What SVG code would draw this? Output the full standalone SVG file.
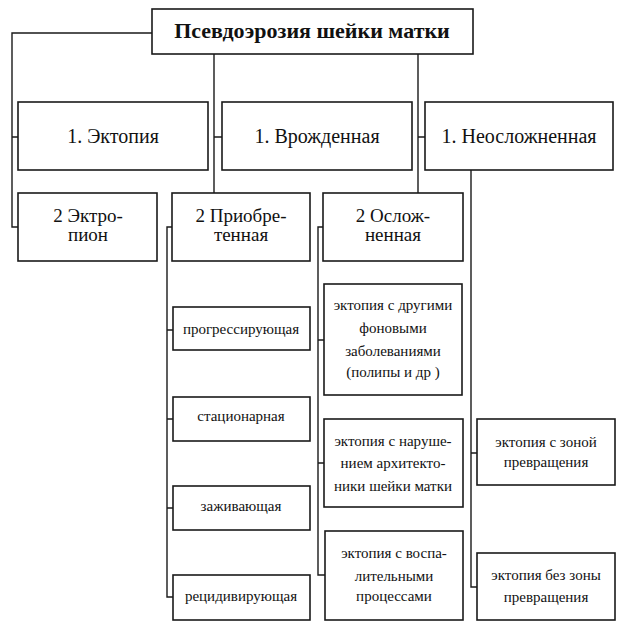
<svg xmlns="http://www.w3.org/2000/svg" width="626" height="632" viewBox="0 0 626 632" font-family="Liberation Serif">
<style>
.b{fill:#fff;stroke:#1a1a1a;stroke-width:1.6}
.c{fill:none;stroke:#1a1a1a;stroke-width:1.4}
</style>
<rect width="626" height="632" fill="#fff"/>
<g id="connectors">
<path class="c" d="M152,33 H12 V227 H18 M12,137 H18"/>
<path class="c" d="M214,54 V193 M214,137 H222"/>
<path class="c" d="M418,54 V193 M418,137 H425"/>
<path class="c" d="M172,227 H167 V597 H173 M167,330 H173 M167,419 H173 M167,508 H173"/>
<path class="c" d="M323,227 H318 V575 H325 M318,340 H324 M318,463 H324"/>
<path class="c" d="M471,170 V587 H477 M471,453 H477"/>
</g>
<g id="root" font-family="Liberation Serif" fill="#111" text-anchor="middle"><rect class="b" x="152" y="9" width="321" height="45"/><text x="312" y="38" font-size="22" font-weight="bold" font-family="Liberation Serif">Псевдоэрозия шейки матки</text></g>
<g id="level1" font-family="Liberation Serif" font-size="20" fill="#111" text-anchor="middle">
<g id="ectopia"><rect class="b" x="18" y="102" width="190" height="68"/><text x="113" y="143" font-family="Liberation Serif">1. Эктопия</text></g>
<g id="congenital"><rect class="b" x="222" y="102" width="190" height="68"/><text x="317" y="143" font-family="Liberation Serif">1. Врожденная</text></g>
<g id="uncomplicated"><rect class="b" x="425" y="102" width="188" height="68"/><text x="519" y="143" font-family="Liberation Serif">1. Неосложненная</text></g>
</g>
<g id="level2" font-family="Liberation Serif" font-size="19" fill="#111" text-anchor="middle">
<g id="ectropion"><rect class="b" x="18" y="193" width="139" height="68"/><text x="88" y="222" font-family="Liberation Serif">2 Эктро-</text><text x="88" y="241" font-family="Liberation Serif">пион</text></g>
<g id="acquired"><rect class="b" x="172" y="193" width="138" height="68"/><text x="241" y="222" font-family="Liberation Serif">2 Приобре-</text><text x="241" y="241" font-family="Liberation Serif">тенная</text></g>
<g id="complicated"><rect class="b" x="323" y="193" width="140" height="68"/><text x="393" y="222" font-family="Liberation Serif">2 Ослож-</text><text x="393" y="241" font-family="Liberation Serif">ненная</text></g>
</g>
<g id="level3" font-family="Liberation Serif" font-size="15" fill="#111" text-anchor="middle">
<g id="progressing"><rect class="b" x="173" y="307" width="137" height="43"/><text x="241" y="334" font-family="Liberation Serif">прогрессирующая</text></g>
<g id="stationary"><rect class="b" x="173" y="397" width="137" height="44"/><text x="241" y="421" font-family="Liberation Serif">стационарная</text></g>
<g id="healing"><rect class="b" x="173" y="486" width="137" height="44"/><text x="241" y="511" font-family="Liberation Serif">заживающая</text></g>
<g id="recurrent"><rect class="b" x="173" y="575" width="137" height="45"/><text x="241" y="601" font-family="Liberation Serif">рецидивирующая</text></g>
<g id="other-bg"><rect class="b" x="324" y="284" width="138" height="111"/><text x="393" y="310" font-family="Liberation Serif">эктопия с другими</text><text x="393" y="333" font-family="Liberation Serif">фоновыми</text><text x="393" y="356" font-family="Liberation Serif">заболеваниями</text><text x="393" y="377" font-family="Liberation Serif">(полипы и др )</text></g>
<g id="architecture"><rect class="b" x="324" y="419" width="139" height="88"/><text x="393" y="446" font-family="Liberation Serif">эктопия с наруше-</text><text x="393" y="468" font-family="Liberation Serif">нием архитекто-</text><text x="393" y="491" font-family="Liberation Serif">ники шейки матки</text></g>
<g id="inflammatory"><rect class="b" x="325" y="531" width="138" height="89"/><text x="394" y="558" font-family="Liberation Serif">эктопия с воспа-</text><text x="394" y="581" font-family="Liberation Serif">лительными</text><text x="394" y="601" font-family="Liberation Serif">процессами</text></g>
<g id="with-zone"><rect class="b" x="477" y="419" width="138" height="66"/><text x="546" y="447" font-family="Liberation Serif">эктопия с зоной</text><text x="546" y="467" font-family="Liberation Serif">превращения</text></g>
<g id="without-zone"><rect class="b" x="477" y="553" width="138" height="67"/><text x="546" y="580" font-family="Liberation Serif">эктопия без зоны</text><text x="546" y="602" font-family="Liberation Serif">превращения</text></g>
</g>
</svg>
